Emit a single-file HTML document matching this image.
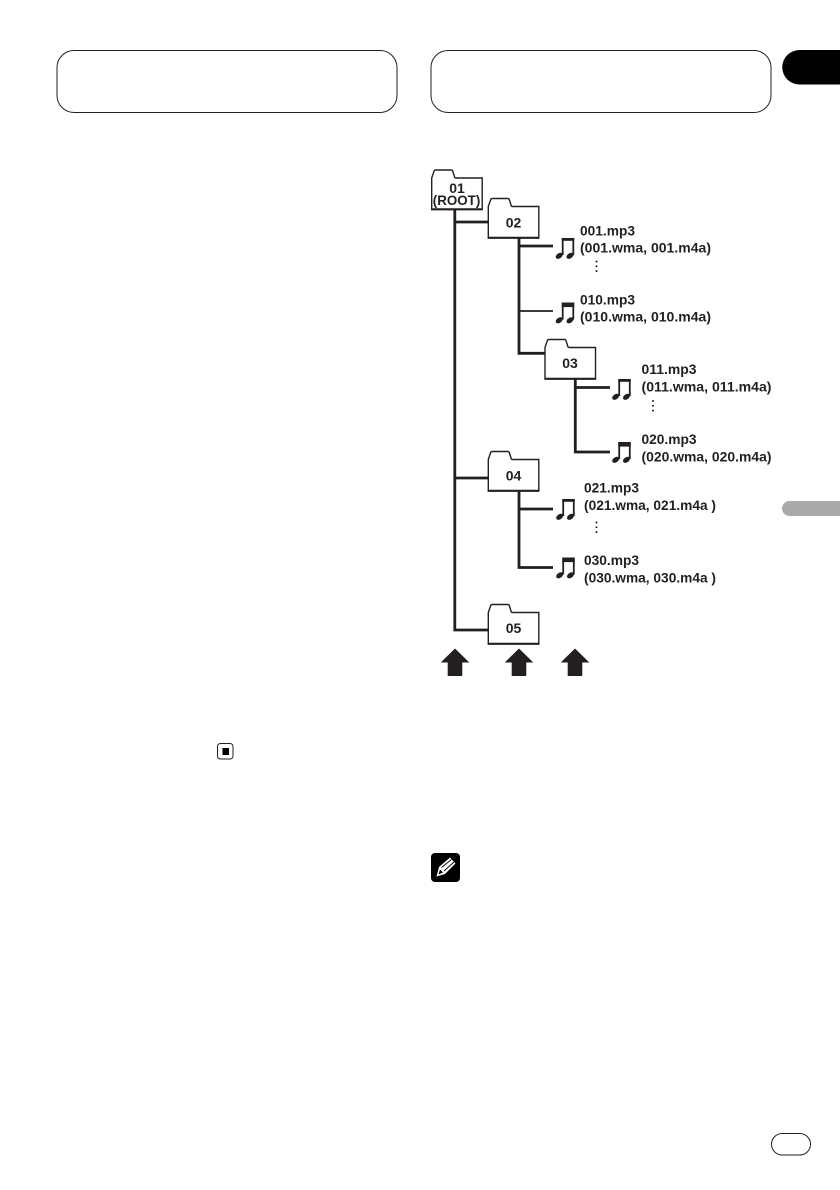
<!DOCTYPE html>
<html>
<head>
<meta charset="utf-8">
<style>
html,body{margin:0;padding:0;background:#fff;}
svg{display:block;}
text{font-family:"Liberation Sans",sans-serif;font-weight:bold;fill:#231f20;}
</style>
</head>
<body>
<svg width="840" height="1190" viewBox="0 0 840 1190" xmlns="http://www.w3.org/2000/svg">
<defs>
<g id="folder">
<path d="M0 39.5V8L2.5 0.7Q3 0 4 0H19.5Q20.5 0 21 1L23 7.5Q23.3 8 24.5 8H50.5V39.5Z" fill="#fff" stroke="#231f20" stroke-width="1.4"/>
<path d="M-0.5 39.3H51" fill="none" stroke="#231f20" stroke-width="2"/>
</g>
<g id="note1">
<path d="M8.2 17V1H18.8V17" fill="none" stroke="#231f20" stroke-width="1.8"/>
<rect x="7.3" y="0" width="12.4" height="2.8" fill="#231f20"/>
<ellipse cx="4.7" cy="17.8" rx="3.9" ry="2.5" transform="rotate(-35 4.7 17.8)" fill="#231f20"/>
<ellipse cx="15.5" cy="17.8" rx="3.9" ry="2.5" transform="rotate(-35 15.5 17.8)" fill="#231f20"/>
</g>
<g id="note2">
<path d="M8.2 17V1H18.8V17" fill="none" stroke="#231f20" stroke-width="1.8"/>
<rect x="7.3" y="0" width="12.4" height="4.6" fill="#231f20"/>
<ellipse cx="4.7" cy="17.8" rx="3.9" ry="2.5" transform="rotate(-35 4.7 17.8)" fill="#231f20"/>
<ellipse cx="15.5" cy="17.8" rx="3.9" ry="2.5" transform="rotate(-35 15.5 17.8)" fill="#231f20"/>
</g>
<g id="dots" fill="#231f20">
<circle cx="0" cy="1" r="1"/><circle cx="0" cy="5.8" r="1"/><circle cx="0" cy="10.6" r="1"/>
</g>
<path id="arrow" d="M0 0L14.3 14H7.3V27.5H-7.3V14H-14.3Z" fill="#231f20"/>
</defs>

<!-- header boxes -->
<rect x="57" y="50.5" width="340" height="62" rx="17" fill="none" stroke="#231f20" stroke-width="1"/>
<rect x="431" y="50.5" width="340" height="62" rx="17" fill="none" stroke="#231f20" stroke-width="1"/>
<path d="M840 50H799.5A17.2 17.2 0 0 0 799.5 84.5H840Z" fill="#000"/>
<path d="M840 501H789.5A7.5 7.5 0 0 0 789.5 516H840Z" fill="#aaa"/>

<!-- connectors -->
<g fill="none" stroke="#231f20" stroke-width="2.8">
<path d="M454.8 209V630H489"/>
<path d="M454.8 222H489"/>
<path d="M454.8 478H489"/>
<path d="M519 238V353.3H546"/>
<path d="M519 246H553"/>
<path d="M519 311H553" stroke-width="1.8"/>
<path d="M575.3 379V452H610"/>
<path d="M575.3 387.5H610"/>
<path d="M519 491V567.5H553"/>
<path d="M519 509H553"/>
</g>

<!-- folders -->
<use href="#folder" x="431.7" y="170"/>
<use href="#folder" x="488.3" y="198.5"/>
<use href="#folder" x="545" y="339.5"/>
<use href="#folder" x="488.3" y="451.5"/>
<use href="#folder" x="488.3" y="604.5"/>

<text x="457" y="193" font-size="14" text-anchor="middle">01</text>
<text x="432.8" y="205" font-size="14" textLength="47.5" lengthAdjust="spacingAndGlyphs" font-weight="normal">(ROOT)</text>
<text x="513.5" y="227.5" font-size="14" text-anchor="middle">02</text>
<text x="570" y="368" font-size="14" text-anchor="middle">03</text>
<text x="513.5" y="480.5" font-size="14" text-anchor="middle">04</text>
<text x="513.5" y="633" font-size="14" text-anchor="middle">05</text>

<!-- notes -->
<use href="#note1" x="554.5" y="238"/>
<use href="#note2" x="554.5" y="302.5"/>
<use href="#note1" x="611" y="379"/>
<use href="#note2" x="611" y="442"/>
<use href="#note1" x="555" y="499"/>
<use href="#note2" x="555" y="557.5"/>

<!-- labels -->
<g font-size="14">
<text x="580" y="235.5" textLength="55" lengthAdjust="spacingAndGlyphs">001.mp3</text>
<text x="580" y="252.5" textLength="131" lengthAdjust="spacingAndGlyphs">(001.wma, 001.m4a)</text>
<text x="580" y="304.5" textLength="55" lengthAdjust="spacingAndGlyphs">010.mp3</text>
<text x="580" y="321.5" textLength="131" lengthAdjust="spacingAndGlyphs">(010.wma, 010.m4a)</text>
<text x="641.5" y="374" textLength="55" lengthAdjust="spacingAndGlyphs">011.mp3</text>
<text x="641.5" y="391.5" textLength="130" lengthAdjust="spacingAndGlyphs">(011.wma, 011.m4a)</text>
<text x="641.5" y="444" textLength="55" lengthAdjust="spacingAndGlyphs">020.mp3</text>
<text x="641.5" y="461.5" textLength="130" lengthAdjust="spacingAndGlyphs">(020.wma, 020.m4a)</text>
<text x="584" y="492.5" textLength="55" lengthAdjust="spacingAndGlyphs">021.mp3</text>
<text x="584" y="510" textLength="132" lengthAdjust="spacingAndGlyphs">(021.wma, 021.m4a )</text>
<text x="584" y="565" textLength="55" lengthAdjust="spacingAndGlyphs">030.mp3</text>
<text x="584" y="582.5" textLength="132" lengthAdjust="spacingAndGlyphs">(030.wma, 030.m4a )</text>
</g>

<use href="#dots" x="596.5" y="260.5"/>
<use href="#dots" x="653" y="400"/>
<use href="#dots" x="596.5" y="521.5"/>

<!-- arrows -->
<use href="#arrow" x="455" y="648.5"/>
<use href="#arrow" x="519" y="648.5"/>
<use href="#arrow" x="575" y="648.5"/>

<!-- stop icon -->
<rect x="217.5" y="743.5" width="15.5" height="15.5" rx="3" fill="#fff" stroke="#231f20" stroke-width="1"/>
<rect x="222.5" y="748" width="6.5" height="7" fill="#000"/>

<!-- note icon -->
<rect x="431" y="853" width="29" height="29" rx="4" fill="#000"/>
<path d="M436.5 876.5L439 867L450 857.5L455.5 863.5L445 874Z" fill="#fff"/>
<path d="M438.5 874.5L440 869.5L443 872.5Z" fill="#000"/>
<path d="M441.5 867.5L451.5 859.5M444 871L454 862" stroke="#000" stroke-width="0.9" fill="none"/>

<!-- page number pill -->
<rect x="771.5" y="1133.5" width="39" height="21.5" rx="10.7" fill="none" stroke="#231f20" stroke-width="1"/>
</svg>
</body>
</html>
